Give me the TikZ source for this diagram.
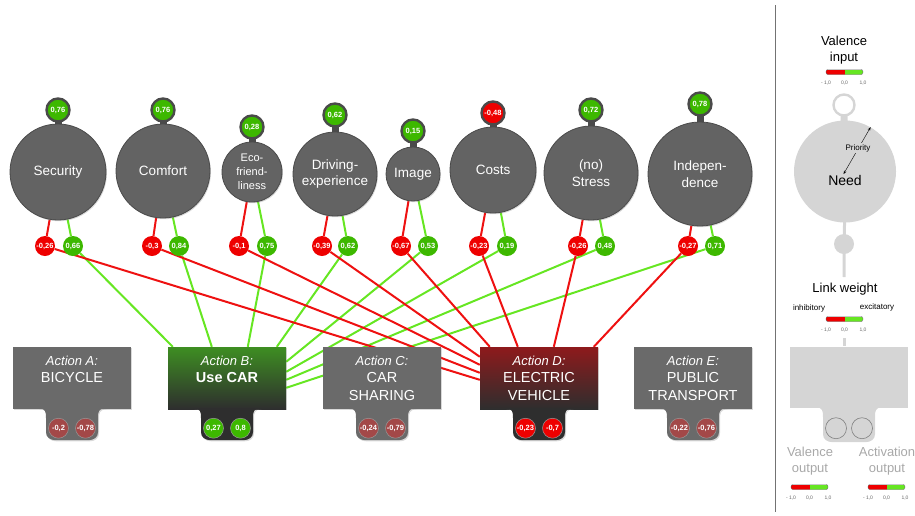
\documentclass[tikz,border=0pt]{standalone}
\usepackage{fontspec}
\setmainfont{Liberation Sans}
\usetikzlibrary{positioning,shadows,arrows.meta}
\pgfdeclarelayer{bg}
\pgfsetlayers{bg,main}

\definecolor{needgray}{HTML}{636363}
\definecolor{neededge}{HTML}{4A4A4A}
\definecolor{actgray}{HTML}{6A6A6A}
\definecolor{tabdark}{HTML}{2E2E2E}
\definecolor{cargreen}{HTML}{3E8E22}
\definecolor{elecred}{HTML}{8E1A1C}
\definecolor{valgreen}{HTML}{3DB800}
\definecolor{valred}{HTML}{EE0000}
\definecolor{linkgreen}{HTML}{66E622}
\definecolor{linkred}{HTML}{EE1111}
\definecolor{mutedred}{HTML}{A34848}
\definecolor{legendgray}{HTML}{D5D5D5}
\definecolor{legendtext}{HTML}{A8A8A8}

\newcommand\needfont{\fontsize{13.5}{16.5}\selectfont}
\newcommand\ecofont{\fontsize{11}{14}\selectfont}
\newcommand\valfont{\fontsize{7.5}{8}\selectfont\bfseries}
\newcommand\actit{\fontsize{13}{17.5}\selectfont\itshape}

\tikzset{
  need/.style={circle,draw=neededge,line width=0.8pt,fill=needgray,text=white,align=center,inner sep=0pt,
    drop shadow={opacity=0.3,shadow xshift=1pt,shadow yshift=-1.2pt}},
  value/.style={circle,draw=neededge,line width=2.4pt,minimum size=23pt,inner sep=0pt,text=white,font=\valfont},
  weight/.style={circle,minimum size=20pt,inner sep=0pt,text=white,font=\valfont},
  neck/.style={draw=neededge,line width=7pt},
  link/.style={line width=2pt},
  act/.style={rectangle,minimum width=118pt,minimum height=62pt,inner sep=0pt,text=white,align=center,
    font=\fontsize{14.5}{17.5}\selectfont,drop shadow={opacity=0.3,shadow xshift=1pt,shadow yshift=-1.2pt}},
  legtxt/.style={align=center,inner sep=0pt,font=\fontsize{13}{15.5}\selectfont},
  smalltxt/.style={inner sep=0pt,font=\fontsize{8}{9}\selectfont},
  scaletxt/.style={inner sep=0pt,text=black!60,font=\fontsize{5}{6}\selectfont}
}

\begin{document}
\begin{tikzpicture}[x=1pt,y=-1pt]
\useasboundingbox (0,0) rectangle (915,515);

% needs with their valence
\foreach \nd/\x/\y/\rad/\txt/\fs/\vy/\val/\col in {
    sec/58/172/48/Security/\needfont/110/{0,76}/valgreen,
    com/163/171/47/Comfort/\needfont/110/{0,76}/valgreen,
    eco/252/172/30/{Eco-\\friend-\\liness}/\ecofont/127/{0,28}/valgreen,
    drv/335/174/42/{Driving-\\experience}/\needfont/115/{0,62}/valgreen,
    img/413/174/27/Image/\needfont/131/{0,15}/valgreen,
    cst/493/170/43/Costs/\needfont/113/{-0,48}/valred,
    str/591/173/47/{(no)\\Stress}/\needfont/110/{0,72}/valgreen,
    ind/700/174/52/{Indepen-\\dence}/\needfont/104/{0,78}/valgreen}{
  \node[need, minimum size=2*\rad pt, font=\fs] (\nd) at (\x,\y) {\txt};
  \node[value, fill=\col] (\nd-v) at (\x,\vy) {\val};
  \begin{pgfonlayer}{bg}
    \draw[neck] (\nd-v.center) -- (\nd.center);
  \end{pgfonlayer}
}

% link weights
\foreach \nd/\rx/\gx/\rv/\gv in {
    sec/45/73/{-0,26}/{0,66}, com/152/179/{-0,3}/{0,84},
    eco/239/267/{-0,1}/{0,75}, drv/322/348/{-0,39}/{0,62},
    img/401/428/{-0,67}/{0,53}, cst/479/507/{-0,23}/{0,19},
    str/578/605/{-0,26}/{0,48}, ind/688/715/{-0,27}/{0,71}}{
  \node[weight, fill=valred] (\nd-r) at (\rx,246) {\rv};
  \node[weight, fill=valgreen] (\nd-g) at (\gx,246) {\gv};
}

% actions
\node[act, fill=actgray] (bikeA) at (72,378) {{\actit Action A:}\\BICYCLE\\~};
\node[act, top color=cargreen, bottom color=tabdark] (carB) at (227,378) {{\actit Action B:}\\{\bfseries Use CAR}\\~};
\node[act, fill=actgray] (shareC) at (382,378) {{\actit Action C:}\\CAR\\SHARING};
\node[act, top color=elecred, bottom color=tabdark] (elecD) at (539,378) {{\actit Action D:}\\ELECTRIC\\VEHICLE};
\node[act, fill=actgray] (pubE) at (693,378) {{\actit Action E:}\\PUBLIC\\TRANSPORT};

\foreach \act/\tc/\col/\ua/\wa in {
    bikeA/actgray/mutedred/{-0,2}/{-0,78}, carB/tabdark/valgreen/{0,27}/{0,8},
    shareC/actgray/mutedred/{-0,24}/{-0,79}, elecD/tabdark/valred/{-0,23}/{-0,7},
    pubE/actgray/mutedred/{-0,22}/{-0,76}}{
  \begin{scope}[shift={(\act.south)}]
    \fill[fill=\tc, drop shadow={opacity=0.3,shadow xshift=1pt,shadow yshift=-1.2pt}]
      (-34,-1) .. controls (-26,-1) and (-26,3) .. (-26,9) -- (-26,23)
      .. controls (-26,28) and (-22,31) .. (-16,31) -- (16,31)
      .. controls (22,31) and (26,28) .. (26,23) -- (26,9)
      .. controls (26,3) and (26,-1) .. (34,-1) -- cycle;
  \end{scope}
  \node[weight, fill=\col, draw=black!40, line width=0.5pt] (\act-val) at ([xshift=-13.5pt,yshift=-19pt]\act.south) {\ua};
  \node[weight, fill=\col, draw=black!40, line width=0.5pt] (\act-out) at ([xshift=13.5pt,yshift=-19pt]\act.south) {\wa};
}

% stems and links
\begin{pgfonlayer}{bg}
  \foreach \nd in {sec,com,eco,drv,img,cst,str,ind}{
    \draw[link, linkred] (\nd) -- (\nd-r);
    \draw[link, linkgreen] (\nd) -- (\nd-g);
  }
  \foreach \nd/\sh in {sec/5,com/44,eco/80,drv/109}
    \draw[link, linkgreen] (\nd-g) -- ([xshift=\sh pt]carB.north west);
  \foreach \nd/\sh in {img/15,cst/25,str/33,ind/41}
    \draw[link, linkgreen] (\nd-g) -- ([yshift=-\sh pt]carB.north east);
  \foreach \nd/\sh in {img/10,cst/38,str/74,ind/114}
    \draw[link, linkred] (\nd-r) -- ([xshift=\sh pt]elecD.north west);
  \foreach \nd/\sh in {sec/33,com/26,eco/18,drv/10}
    \draw[link, linkred] (\nd-r) -- ([yshift=-\sh pt]elecD.north west);
\end{pgfonlayer}

% legend
\coordinate (sepTop) at (775,5);
\coordinate (sepBot) at (775,512);
\draw[black!55, line width=1pt] (sepTop) -- (sepBot);

\node[legtxt] (legValIn) at (844,50) {Valence\\input};
\node[value, draw=legendgray, fill=white, minimum size=21pt] (legVal) at (844,105) {};
\node[circle, fill=legendgray, minimum size=102pt, inner sep=0pt] (legNeed) at (845,171.5) {};
\node[inner sep=0pt, font=\fontsize{14}{16}\selectfont] (legNeedTxt) at (845,180) {Need};
\draw[{Stealth[length=3.5pt,width=2.5pt]}-{Stealth[length=3.5pt,width=2.5pt]}, line width=0.4pt]
  ([shift={(240:3pt)}]legNeed.center) -- (legNeed.60);
\node[smalltxt, fill=legendgray, inner sep=1pt] (legPrio) at (858,148) {Priority};
\node[circle, fill=legendgray, minimum size=20pt, inner sep=0pt] (legOut) at (844,244) {};
\coordinate (legStemEnd) at (844,277);
\coordinate (legLinkA) at (844,338);
\coordinate (legLinkB) at (844,346);
\begin{pgfonlayer}{bg}
  \draw[legendgray, line width=7pt] (legVal.center) -- (legNeed.center);
  \draw[legendgray, line width=3pt] (legNeed.center) -- (legStemEnd);
\end{pgfonlayer}
\draw[legendgray, line width=3pt] (legLinkA) -- (legLinkB);

\node[legtxt] (legLink) at (845,289) {Link weight};
\node[smalltxt] (legInh) at (809,308) {inhibitory};
\node[smalltxt] (legExc) at (877,307) {excitatory};

\node[rectangle, fill=legendgray, minimum width=118pt, minimum height=61pt, inner sep=0pt] (legAct) at (849,377.5) {};
\begin{scope}[shift={(legAct.south)}]
  \fill[legendgray]
    (-34,-1) .. controls (-26,-1) and (-26,3) .. (-26,9) -- (-26,26)
    .. controls (-26,31) and (-22,34) .. (-16,34) -- (16,34)
    .. controls (22,34) and (26,31) .. (26,26) -- (26,9)
    .. controls (26,3) and (26,-1) .. (34,-1) -- cycle;
\end{scope}
\node[circle, draw=black!50, line width=0.6pt, minimum size=21pt, inner sep=0pt] (legActVal) at ([xshift=-13pt,yshift=-20pt]legAct.south) {};
\node[circle, draw=black!50, line width=0.6pt, minimum size=21pt, inner sep=0pt] (legActOut) at ([xshift=13pt,yshift=-20pt]legAct.south) {};
\node[legtxt, text=legendtext] (legValOut) at (810,461) {Valence\\output};
\node[legtxt, text=legendtext] (legActOutTxt) at (887,461) {Activation\\output};

% colour bars
\foreach \bx/\by [count=\i] in {826/72,826/319,791/487,868/487}{
  \begin{scope}
    \clip[rounded corners=2pt] (\bx,\by-2.5) rectangle (\bx+37,\by+2.5);
    \fill[valred] (\bx,\by-2.5) rectangle (\bx+18.5,\by+2.5);
    \fill[linkgreen] (\bx+18.5,\by-2.5) rectangle (\bx+37,\by+2.5);
  \end{scope}
  \draw[black!60, line width=0.4pt, rounded corners=2pt] (\bx,\by-2.5) rectangle (\bx+37,\by+2.5);
  \node[scaletxt] (bar\i-min) at (\bx,\by+11) {- 1,0};
  \node[scaletxt] (bar\i-mid) at (\bx+18.5,\by+11) {0,0};
  \node[scaletxt] (bar\i-max) at (\bx+37,\by+11) {1,0};
}
\end{tikzpicture}
\end{document}
